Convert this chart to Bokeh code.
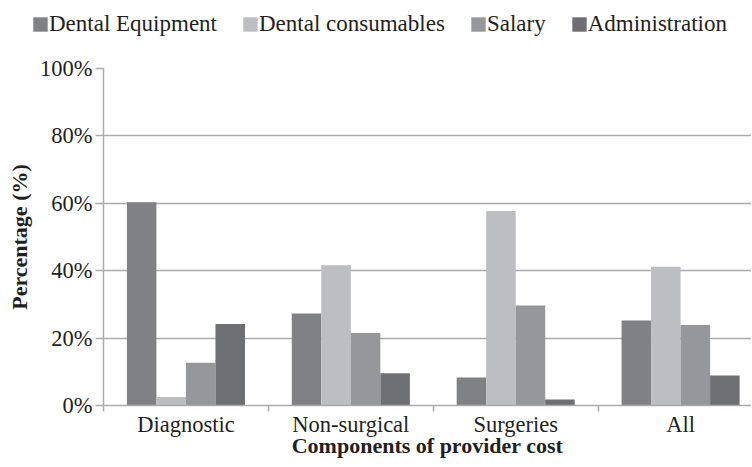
from bokeh.plotting import figure
from bokeh.models import Range1d, FixedTicker, PrintfTickFormatter, Legend, LegendItem
from bokeh.embed import file_html
from bokeh.resources import INLINE

categories = ["Diagnostic", "Non-surgical", "Surgeries", "All"]
series = ["Dental Equipment", "Dental consumables", "Salary", "Administration"]
equipment = [60.3, 27.3, 8.3, 25.2]
consumables = [2.5, 41.6, 57.7, 41.2]
salary = [12.7, 21.5, 29.7, 23.9]
administration = [24.2, 9.6, 1.8, 8.9]
values = [equipment, consumables, salary, administration]
colors = ["#808184", "#bdbec1", "#96979a", "#6e6f72"]
y_ticks = [0, 20, 40, 60, 80, 100]

FONT = "Liberation Serif"
TXT = "#231f20"
GRID = "#ababab"

p = figure(frame_width=648, frame_height=337, output_backend="svg", toolbar_location=None,
           x_range=Range1d(0, 3.93), y_range=Range1d(0, 100),
           min_border_left=103, min_border_right=0, min_border_top=18, min_border_bottom=40)
p.outline_line_color = None
p.background_fill_color = "white"

bar_w = 0.179
offsets = [-1.5 * bar_w, -0.5 * bar_w, 0.5 * bar_w, 1.5 * bar_w]
for s, vals, col, off in zip(series, values, colors, offsets):
    xs = [i + 0.5 + off for i in range(len(categories))]
    p.vbar(x=xs, top=vals, width=bar_w, fill_color=col, line_color=None)

# x axis
xa = p.xaxis[0]
xa.ticker = FixedTicker(ticks=[i + 0.5 for i in range(len(categories))],
                        minor_ticks=list(range(len(categories))))
xa.major_label_overrides = {i + 0.5: c for i, c in enumerate(categories)}
xa.major_tick_line_color = None
xa.major_tick_out = 0
xa.major_tick_in = 0
xa.minor_tick_line_color = GRID
xa.minor_tick_line_width = 1.5
xa.minor_tick_out = 6
xa.minor_tick_in = 0
xa.axis_line_color = GRID
xa.axis_line_width = 1.5
xa.major_label_standoff = 0
xa.major_label_text_font = FONT
xa.major_label_text_font_size = "22.5px"
xa.major_label_text_color = TXT
xa.axis_label = "Components of provider cost"
xa.axis_label_text_font = FONT
xa.axis_label_text_font_style = "bold"
xa.axis_label_text_font_size = "22px"
xa.axis_label_text_color = TXT
xa.axis_label_standoff = -7

ya = p.yaxis[0]
ya.ticker = FixedTicker(ticks=y_ticks)
ya.formatter = PrintfTickFormatter(format="%d%%")
ya.minor_tick_line_color = None
ya.major_tick_line_color = GRID
ya.major_tick_line_width = 1.5
ya.major_tick_out = 8
ya.major_tick_in = 0
ya.axis_line_color = GRID
ya.axis_line_width = 1.5
ya.major_label_standoff = 3
ya.major_label_text_font = FONT
ya.major_label_text_font_size = "22.5px"
ya.major_label_text_color = TXT
ya.axis_label = "Percentage (%)"
ya.axis_label_text_font = FONT
ya.axis_label_text_font_style = "bold"
ya.axis_label_text_font_size = "22px"
ya.axis_label_text_color = TXT
ya.axis_label_standoff = 5

p.xgrid.grid_line_color = None
p.ygrid.ticker = FixedTicker(ticks=y_ticks)
p.ygrid.grid_line_color = GRID
p.ygrid.grid_line_width = 1.5

# legend strip above the chart (proxy bars have zero height, only their style is used)
lf = figure(width=752, height=50, output_backend="svg", toolbar_location=None,
            x_axis_location=None, y_axis_location=None,
            x_range=Range1d(0, 1), y_range=Range1d(0, 1),
            min_border_left=31, min_border_right=0, min_border_top=11, min_border_bottom=0)
lf.outline_line_color = None
lf.xgrid.grid_line_color = None
lf.ygrid.grid_line_color = None
items = []
for s, col in zip(series, colors):
    r = lf.vbar(x=[0.5], top=[0], bottom=[0], width=0.0, fill_color=col, line_color=None)
    items.append(LegendItem(label=s, renderers=[r]))
legend = Legend(items=items, orientation="horizontal", location="top_left",
                label_text_font=FONT, label_text_font_size="23px", label_text_color=TXT,
                glyph_width=18, glyph_height=18, label_standoff=0, spacing=24,
                padding=0, margin=0, label_height=26, border_line_color=None,
                background_fill_alpha=0)
lf.add_layout(legend, "center")

open("out.html", "w").write(file_html([lf, p], INLINE))
